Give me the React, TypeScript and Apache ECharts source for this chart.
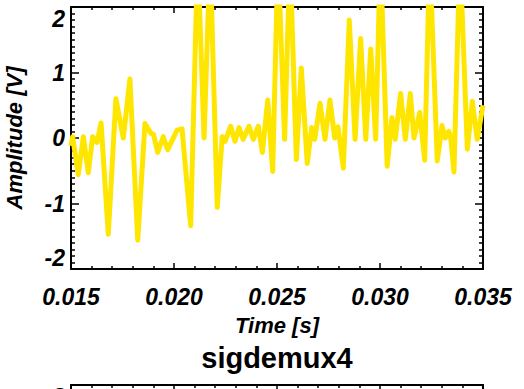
import React, { useEffect, useRef } from "react";
import * as echarts from "echarts";

// Time stamps [s] and amplitudes [V]
const timeValues: number[] = [
  0.015, 0.01508, 0.01535, 0.0156, 0.01584, 0.01605, 0.01626, 0.01646, 0.01681, 0.01718,
  0.01754, 0.01786, 0.01824, 0.01859, 0.01888, 0.019, 0.01921, 0.01948, 0.01969, 0.02015,
  0.02039, 0.02081, 0.02115, 0.02146, 0.02175, 0.0221, 0.02234, 0.02248, 0.02275, 0.02296,
  0.02316, 0.02336, 0.02364, 0.02385, 0.02409, 0.02429, 0.02455, 0.02479, 0.02505, 0.02537,
  0.02563, 0.02594, 0.02618, 0.02647, 0.02668, 0.02683, 0.02709, 0.02733, 0.02757, 0.0278,
  0.02796, 0.02822, 0.02851, 0.02879, 0.02906, 0.02931, 0.02955, 0.02979, 0.03002, 0.03035,
  0.03058, 0.03074, 0.031, 0.03123, 0.03147, 0.03165, 0.03193, 0.03217, 0.03241, 0.03278,
  0.03301, 0.03317, 0.03334, 0.03343, 0.03359, 0.03388, 0.03424, 0.03448, 0.03472, 0.035,
];
const amplitudeValues: number[] = [
  -0.12, 0.02, -0.56, 0.02, -0.53, 0.02, -0.07, 0.23, -1.47, 0.6,
  0.0, 0.9, -1.56, 0.22, 0.07, 0.06, -0.22, 0.02, -0.18, 0.12,
  0.14, -1.34, 2.8, 0.0, 2.8, -1.06, 0.02, -0.05, 0.18, -0.05,
  0.16, -0.02, 0.18, -0.02, 0.18, -0.22, 0.58, -0.51, 2.8, -0.02,
  2.8, -0.33, 1.07, -0.39, 0.16, -0.02, 0.53, -0.02, 0.58, 0.0,
  0.17, -0.46, 1.8, -0.02, 1.52, -0.02, 1.36, -0.02, 2.8, -0.43,
  0.31, -0.02, 0.68, -0.02, 0.68, 0.0, 0.39, -0.34, 2.8, -0.35,
  0.19, 0.0, 0.1, 0.02, -0.52, 2.8, -0.17, 0.56, -0.02, 0.5,
];
const xTicks = { min: 0.015, max: 0.035, interval: 0.005 };
const yTicks = { min: -2, max: 2, interval: 1 };
const xAxisTitle = "Time [s]";
const yAxisTitle = "Amplitude [V]";
const nextTitle = "sigdemux4";

const FONT = "'Liberation Sans', Arial, Helvetica, sans-serif";

export default function App() {
  const ref = useRef<HTMLDivElement>(null);
  useEffect(() => {
    if (!ref.current) return;
    const chart = echarts.init(ref.current, undefined, { renderer: "svg" });
    const black = "#000";
    const line = { show: true, onZero: false, lineStyle: { color: black, width: 2 } };
    const xTick = { show: true, inside: true, length: 6, lineStyle: { color: black, width: 1.5 } };
    const xMinor = { show: true, splitNumber: 5, length: 3, lineStyle: { color: black, width: 1.5 } };
    const yTick = { show: true, inside: true, length: 8, lineStyle: { color: black, width: 1.5 } };
    const yMinor = { show: true, splitNumber: 10, length: 4, lineStyle: { color: black, width: 1.5 } };
    const labelFont = {
      fontFamily: FONT,
      fontWeight: "bold",
      fontStyle: "italic",
      fontSize: 23,
      color: black,
    };
    const baseX = (gridIndex: number, position: string, labels: boolean) => ({
      type: "value",
      gridIndex,
      position,
      min: xTicks.min,
      max: xTicks.max,
      interval: xTicks.interval,
      axisLine: line,
      axisTick: xTick,
      minorTick: xMinor,
      splitLine: { show: false },
      minorSplitLine: { show: false },
      axisLabel: labels
        ? { show: true, margin: 16, formatter: (v: number) => v.toFixed(3), ...labelFont }
        : { show: false },
    });
    const baseY = (gridIndex: number, position: string, labels: boolean, onlyMax = false) => ({
      type: "value",
      gridIndex,
      position,
      min: yTicks.min,
      max: yTicks.max,
      interval: yTicks.interval,
      axisLine: line,
      axisTick: yTick,
      minorTick: yMinor,
      splitLine: { show: false },
      minorSplitLine: { show: false },
      axisLabel: labels
        ? {
            show: true,
            margin: 6,
            formatter: (v: number) => (onlyMax && v !== yTicks.max ? "" : String(v)),
            verticalAlignMaxLabel: "top",
            verticalAlignMinLabel: "bottom",
            ...labelFont,
          }
        : { show: false },
    });
    const data = timeValues.map((t, i) => [t, amplitudeValues[i]]);
    chart.setOption({
      animation: false,
      backgroundColor: "#fff",
      grid: [
        { left: 71, top: 7, width: 412, height: 262, containLabel: false, outerBoundsMode: "none" },
        { left: 71, top: 385, width: 412, height: 262, containLabel: false, outerBoundsMode: "none" },
      ],
      xAxis: [
        {
          ...baseX(0, "bottom", true),
          name: xAxisTitle,
          nameLocation: "middle",
          nameGap: 45,
          nameTextStyle: { ...labelFont, fontSize: 22 },
        },
        baseX(0, "top", false),
        baseX(1, "top", false),
      ],
      yAxis: [
        {
          ...baseY(0, "left", true),
          name: yAxisTitle,
          nameLocation: "middle",
          nameGap: 46,
          nameTextStyle: { ...labelFont, fontSize: 22 },
        },
        baseY(0, "right", false),
        baseY(1, "left", true, true),
        baseY(1, "right", false),
      ],
      graphic: [
        {
          type: "text",
          x: 277,
          y: 343,
          style: {
            text: nextTitle,
            fontFamily: FONT,
            fontWeight: "bold",
            fontSize: 29,
            fill: black,
            textAlign: "center",
            textVerticalAlign: "top",
          },
        },
      ],
      series: [
        {
          type: "line",
          xAxisIndex: 0,
          yAxisIndex: 0,
          data,
          showSymbol: false,
          symbol: "none",
          clip: true,
          lineStyle: { color: "#FFE600", width: 5, join: "round" },
        },
      ],
    });
    return () => chart.dispose();
  }, []);
  return (
    <div
      ref={ref}
      style={{ position: "absolute", left: 0, top: 0, width: 524, height: 389, background: "#fff" }}
    />
  );
}
